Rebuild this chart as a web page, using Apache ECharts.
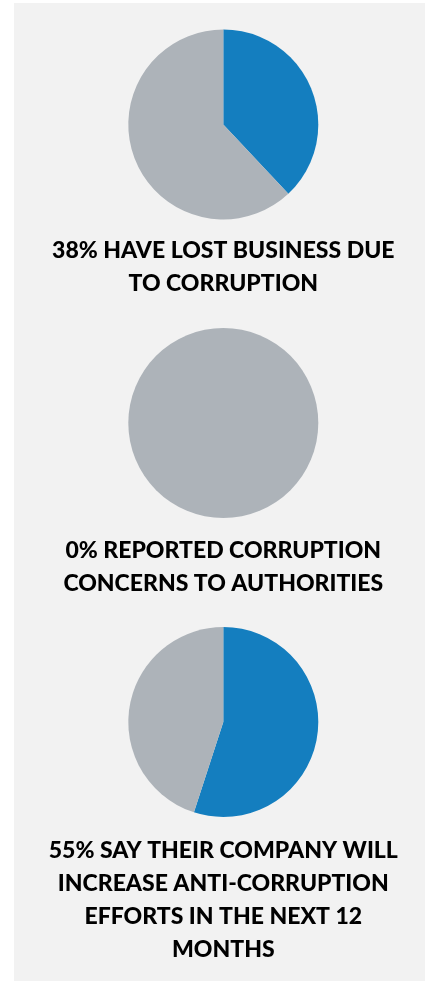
<!DOCTYPE html>
<html>
<head>
<meta charset="utf-8">
<script src="https://cdn.jsdelivr.net/npm/echarts@6/dist/echarts.min.js"></script>
<style>
  html, body { margin: 0; padding: 0; background: #ffffff; }
  #chart { width: 425px; height: 981px; }
</style>
</head>
<body>
<div id="chart"></div>
<script>
// Survey results: share answering "yes" for each question
const captions = [
  '38% HAVE LOST BUSINESS DUE\nTO CORRUPTION',
  '0% REPORTED CORRUPTION\nCONCERNS TO AUTHORITIES',
  '55% SAY THEIR COMPANY WILL\nINCREASE ANTI-CORRUPTION\nEFFORTS IN THE NEXT 12\nMONTHS'
];
const yesShare = [38, 0, 55];
const otherShare = [62, 100, 45];

const BLUE = '#147ebf';
const GREY = '#adb3b9';
const centersY = [124.5, 423, 722];
const captionTop = [234, 534, 834];
const CX = 223.3;
const R = 95;

const chart = echarts.init(document.getElementById('chart'), null, { renderer: 'canvas' });

const series = yesShare.map((v, i) => ({
  type: 'pie',
  center: [CX, centersY[i]],
  radius: [0, R],
  startAngle: 90,
  clockwise: true,
  silent: true,
  animation: false,
  label: { show: false },
  labelLine: { show: false },
  itemStyle: { borderWidth: 0, borderRadius: 0 },
  padAngle: 0,
  data: [
    { name: 'Yes', value: v, itemStyle: { color: BLUE } },
    { name: 'No', value: otherShare[i], itemStyle: { color: GREY } }
  ]
}));

const texts = captions.map((t, i) => ({
  type: 'text',
  x: CX,
  y: captionTop[i],
  silent: true,
  style: {
    text: t,
    fill: '#000000',
    font: '900 23px Lato, "Open Sans", sans-serif',
    lineHeight: 33,
    align: 'center',
    verticalAlign: 'top',
    textAlign: 'center',
    textVerticalAlign: 'top'
  }
}));

chart.setOption({
  backgroundColor: '#ffffff',
  animation: false,
  graphic: [
    {
      type: 'rect',
      silent: true,
      z: -10,
      shape: { x: 14, y: 3, width: 411, height: 978 },
      style: { fill: '#f2f2f2' }
    }
  ].concat(texts),
  series: series
});
</script>
</body>
</html>
